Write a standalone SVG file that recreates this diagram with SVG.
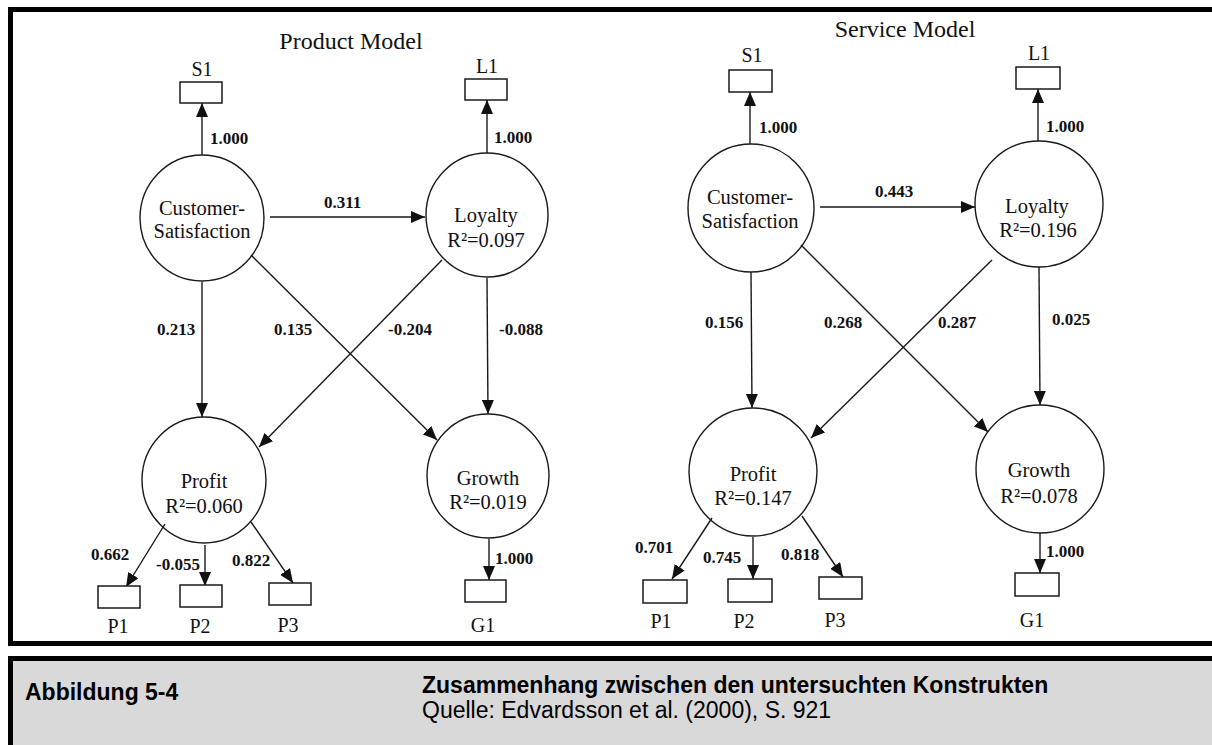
<svg xmlns="http://www.w3.org/2000/svg" width="1212" height="745" viewBox="0 0 1212 745">
  <style>
    .frame { fill: #ffffff; stroke: #000000; stroke-width: 5; }
    .caption { fill: #d9d9d9; stroke: #000000; stroke-width: 5; }
    .node { fill: none; stroke: #1a1a1a; stroke-width: 1.4; }
    .box { fill: #ffffff; stroke: #1a1a1a; stroke-width: 1.5; }
    .edge { fill: none; stroke: #1a1a1a; stroke-width: 1.4; marker-end: url(#arrow); }
    .title { font-family: "Liberation Serif", "Times New Roman", serif; font-size: 24px; fill: #111; text-anchor: middle; }
    .lbl { font-family: "Liberation Serif", "Times New Roman", serif; font-size: 20.5px; fill: #111; text-anchor: middle; }
    .ind { font-family: "Liberation Serif", "Times New Roman", serif; font-size: 20px; fill: #111; text-anchor: middle; }
    .coef { font-family: "Liberation Serif", "Times New Roman", serif; font-size: 17px; font-weight: bold; fill: #111; }
    .capb { font-family: "Liberation Sans", Arial, sans-serif; font-size: 23px; font-weight: bold; fill: #000; }
    .capr { font-family: "Liberation Sans", Arial, sans-serif; font-size: 23px; fill: #000; }
  </style>
  <defs>
    <marker id="arrow" viewBox="0 0 14 12" refX="14" refY="6" markerWidth="14" markerHeight="12" markerUnits="userSpaceOnUse" orient="auto">
      <path d="M0,0 L14,6 L0,12 Z" fill="#111"/>
    </marker>
  </defs>

  <rect width="1212" height="745" fill="#ffffff"/>
  <!-- figure frame and caption bar -->
  <rect class="frame" x="10.5" y="9.5" width="1215" height="634"/>
  <rect class="caption" x="10.5" y="658.5" width="1215" height="100"/>

  <!-- ===== Product model ===== -->
  <text class="title" x="351" y="49">Product Model</text>

  <g id="connectors-product">
    <line class="edge" x1="202" y1="155" x2="202" y2="103"/>
    <line class="edge" x1="487" y1="153" x2="487" y2="100"/>
    <line class="edge" x1="270" y1="217" x2="425" y2="217"/>
    <line class="edge" x1="202" y1="282" x2="202" y2="417"/>
    <line class="edge" x1="251" y1="255" x2="437" y2="440"/>
    <line class="edge" x1="442" y1="260" x2="259" y2="447"/>
    <line class="edge" x1="487" y1="278" x2="488" y2="414"/>
    <line class="edge" x1="165" y1="524" x2="126" y2="587"/>
    <line class="edge" x1="205" y1="545" x2="205" y2="586"/>
    <line class="edge" x1="251" y1="522" x2="293" y2="583"/>
    <line class="edge" x1="489" y1="539" x2="489" y2="580"/>
    <text class="coef" x="210" y="144">1.000</text>
    <text class="coef" x="494" y="143">1.000</text>
    <text class="coef" x="324" y="208">0.311</text>
    <text class="coef" x="157" y="335">0.213</text>
    <text class="coef" x="274" y="335">0.135</text>
    <text class="coef" x="388" y="335">-0.204</text>
    <text class="coef" x="499" y="335">-0.088</text>
    <text class="coef" x="91" y="560">0.662</text>
    <text class="coef" x="156" y="570">-0.055</text>
    <text class="coef" x="232" y="566">0.822</text>
    <text class="coef" x="495" y="564">1.000</text>
  </g>

  <g id="p-s1">
    <text class="ind" x="202" y="76">S1</text>
    <rect class="box" x="180" y="82" width="42" height="21"/>
  </g>
  <g id="p-l1">
    <text class="ind" x="487" y="73">L1</text>
    <rect class="box" x="465" y="79" width="42" height="21"/>
  </g>
  <g id="p-satisfaction">
    <ellipse class="node" cx="202" cy="218" rx="62" ry="63"/>
    <text class="lbl" x="202" y="215">Customer-</text>
    <text class="lbl" x="202" y="238">Satisfaction</text>
  </g>
  <g id="p-loyalty">
    <ellipse class="node" cx="487" cy="215" rx="61" ry="62"/>
    <text class="lbl" x="486" y="222">Loyalty</text>
    <text class="lbl" x="486" y="247">R²=0.097</text>
  </g>
  <g id="p-profit">
    <ellipse class="node" cx="204" cy="480" rx="62" ry="63"/>
    <text class="lbl" x="204" y="488">Profit</text>
    <text class="lbl" x="204" y="513">R²=0.060</text>
  </g>
  <g id="p-growth">
    <ellipse class="node" cx="488" cy="476" rx="61" ry="62"/>
    <text class="lbl" x="488" y="485">Growth</text>
    <text class="lbl" x="488" y="509">R²=0.019</text>
  </g>
  <g id="p-p1">
    <rect class="box" x="98" y="586" width="42" height="22"/>
    <text class="ind" x="118" y="633">P1</text>
  </g>
  <g id="p-p2">
    <rect class="box" x="180" y="585" width="42" height="22"/>
    <text class="ind" x="200" y="633">P2</text>
  </g>
  <g id="p-p3">
    <rect class="box" x="269" y="583" width="42" height="22"/>
    <text class="ind" x="288" y="632">P3</text>
  </g>
  <g id="p-g1">
    <rect class="box" x="465" y="580" width="41" height="22"/>
    <text class="ind" x="483" y="632">G1</text>
  </g>

  <!-- ===== Service model ===== -->
  <text class="title" x="905" y="37">Service Model</text>

  <g id="connectors-service">
    <line class="edge" x1="750" y1="144" x2="750" y2="92"/>
    <line class="edge" x1="1038" y1="141" x2="1038" y2="89"/>
    <line class="edge" x1="820" y1="207" x2="975" y2="207"/>
    <line class="edge" x1="751" y1="272" x2="752" y2="408"/>
    <line class="edge" x1="801" y1="245" x2="988" y2="432"/>
    <line class="edge" x1="992" y1="260" x2="811" y2="438"/>
    <line class="edge" x1="1039" y1="267" x2="1040" y2="405"/>
    <line class="edge" x1="712" y1="518" x2="672" y2="579"/>
    <line class="edge" x1="753" y1="537" x2="753" y2="579"/>
    <line class="edge" x1="802" y1="516" x2="843" y2="577"/>
    <line class="edge" x1="1040" y1="533" x2="1040" y2="573"/>
    <text class="coef" x="759" y="133">1.000</text>
    <text class="coef" x="1046" y="132">1.000</text>
    <text class="coef" x="875" y="197">0.443</text>
    <text class="coef" x="705" y="328">0.156</text>
    <text class="coef" x="824" y="328">0.268</text>
    <text class="coef" x="938" y="328">0.287</text>
    <text class="coef" x="1052" y="325">0.025</text>
    <text class="coef" x="635" y="553">0.701</text>
    <text class="coef" x="703" y="563">0.745</text>
    <text class="coef" x="781" y="560">0.818</text>
    <text class="coef" x="1046" y="557">1.000</text>
  </g>

  <g id="s-s1">
    <text class="ind" x="752" y="62">S1</text>
    <rect class="box" x="729" y="70" width="43" height="22"/>
  </g>
  <g id="s-l1">
    <text class="ind" x="1039" y="60">L1</text>
    <rect class="box" x="1016" y="67" width="44" height="22"/>
  </g>
  <g id="s-satisfaction">
    <ellipse class="node" cx="751" cy="208" rx="63" ry="64"/>
    <text class="lbl" x="750" y="204">Customer-</text>
    <text class="lbl" x="750" y="228">Satisfaction</text>
  </g>
  <g id="s-loyalty">
    <ellipse class="node" cx="1039" cy="204" rx="64" ry="63"/>
    <text class="lbl" x="1037" y="213">Loyalty</text>
    <text class="lbl" x="1038" y="237">R²=0.196</text>
  </g>
  <g id="s-profit">
    <ellipse class="node" cx="753" cy="472" rx="64" ry="64"/>
    <text class="lbl" x="753" y="481">Profit</text>
    <text class="lbl" x="753" y="505">R²=0.147</text>
  </g>
  <g id="s-growth">
    <ellipse class="node" cx="1040" cy="469" rx="64" ry="64"/>
    <text class="lbl" x="1039" y="477">Growth</text>
    <text class="lbl" x="1039" y="503">R²=0.078</text>
  </g>
  <g id="s-p1">
    <rect class="box" x="643" y="580" width="44" height="23"/>
    <text class="ind" x="661" y="628">P1</text>
  </g>
  <g id="s-p2">
    <rect class="box" x="728" y="579" width="44" height="23"/>
    <text class="ind" x="744" y="628">P2</text>
  </g>
  <g id="s-p3">
    <rect class="box" x="819" y="577" width="43" height="22"/>
    <text class="ind" x="835" y="627">P3</text>
  </g>
  <g id="s-g1">
    <rect class="box" x="1015" y="573" width="44" height="23"/>
    <text class="ind" x="1032" y="627">G1</text>
  </g>

  <!-- caption -->
  <g id="caption-text">
    <text class="capb" x="25" y="700">Abbildung 5-4</text>
    <text class="capb" x="422" y="693">Zusammenhang zwischen den untersuchten Konstrukten</text>
    <text class="capr" x="422" y="718">Quelle: Edvardsson et al. (2000), S. 921</text>
  </g>
</svg>
